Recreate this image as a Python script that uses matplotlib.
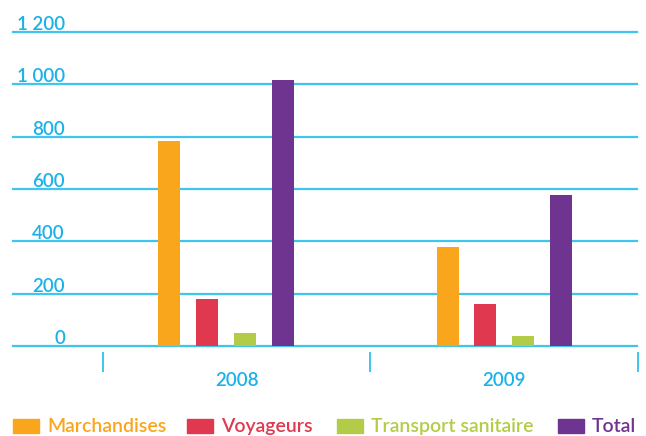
import matplotlib
matplotlib.use("Agg")
import matplotlib.pyplot as plt
import matplotlib.transforms as mtransforms
from matplotlib.patches import Rectangle
from matplotlib import font_manager

years = ["2008", "2009"]
series = ["Marchandises", "Voyageurs", "Transport sanitaire", "Total"]
marchandises = [783, 378]
voyageurs = [180, 160]
transport_sanitaire = [50, 38]
total = [1015, 577]
y_ticks = [0, 200, 400, 600, 800, 1000, 1200]
y_tick_labels = ["0", "200", "400", "600", "800", "1 000", "1 200"]

colors = ["#f9a61c", "#e0384f", "#b3cc48", "#6f3390"]
blue = "#1ab2e8"
grid_blue = "#3ec6ef"
font = "Lato"
weight = "semibold"

W, H = 646, 436
fig = plt.figure(figsize=(W / 100, H / 100), dpi=100)
ax = fig.add_axes([13 / W, 1 - 346 / H, 624 / W, 314 / H])
ax.set_xlim(-0.836, 1.496)
ax.set_ylim(0, 1200)
ax.axis("off")

for v in y_ticks:
    ax.axhline(v, color=grid_blue, lw=1.6, zorder=1, clip_on=False)

# grouped bars
values = [marchandises, voyageurs, transport_sanitaire, total]
step = 0.141
width = 0.082
group_shift = [-0.04, 0.0]
for i, vals in enumerate(values):
    xs = [j + group_shift[j] + (i - 1.5) * step for j in range(len(years))]
    ax.bar(xs, vals, width=width, color=colors[i], zorder=2)

# y labels sitting above each gridline
ytrans = mtransforms.offset_copy(
    mtransforms.blended_transform_factory(ax.transAxes, ax.transData),
    fig=fig, x=0, y=2, units="dots")
for v, lab in zip(y_ticks, y_tick_labels):
    ax.text(52 / 624, v, lab, transform=ytrans, ha="right", va="baseline",
            color=blue, fontsize=13.5, family=font, weight=weight)

# category separators and year labels
for b in [-0.5, 0.5, 1.5]:
    ax.plot([b, b], [-7 / 314, -25 / 314], color=grid_blue, lw=1.4,
            transform=mtransforms.blended_transform_factory(ax.transData, ax.transAxes),
            clip_on=False)
for j, y in enumerate(years):
    ax.text(j, -34 / 314, y, ha="center", va="center", color=blue, fontsize=13.5,
            family=font, weight=weight,
            transform=mtransforms.blended_transform_factory(ax.transData, ax.transAxes))

# legend
leg_sq = [13, 187, 337, 558]
for name, c, x in zip(series, colors, leg_sq):
    fig.patches.append(Rectangle((x / W, 1 - 433 / H), 26 / W, 14 / H,
                                 transform=fig.transFigure, color=c))
    fig.text((x + 34) / W, 1 - 426 / H, name, color=c, fontsize=14, family=font,
             weight=weight, ha="left", va="center")

fig.savefig("out.png", dpi=100)
